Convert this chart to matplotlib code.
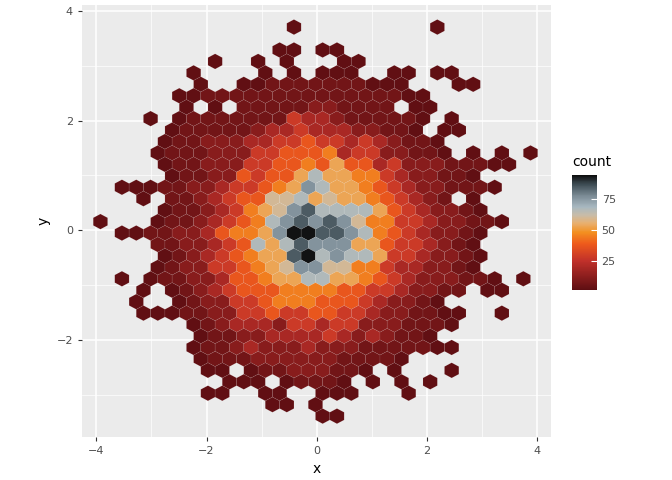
import numpy as np
import matplotlib
matplotlib.use("Agg")
import matplotlib.pyplot as plt
from matplotlib.collections import PolyCollection
from matplotlib.colors import LinearSegmentedColormap, Normalize

# hex rows: row index -> [(first column, level codes)]
# odd rows sit on half columns
rows = {
    18: [(-1, "1"), (9, "1")],
    16: [(-2, "11"), (1, "11")],
    15: [(-6.5, "1"), (-3.5, "1"), (-1.5, "1"), (2.5, "11")],
    14: [(-8, "1"), (-3, "1"), (-1, "1"), (1, "111"), (6, "11"), (9, "11")],
    13: [(-7.5, "1"), (-4.5, "112222222111"), (10.5, "11")],
    12: [(-9, "112222222222222211")],
    11: [(-8.5, "1"), (-6.5, "1"), (-4.5, "22222332222"), (7.5, "11")],
    10: [(-11, "1"), (-9, "122222225443222221"), (10, "1")],
    9: [(-9.5, "122222344544433221"), (9.5, "11")],
    8: [(-10, "12233344556554543221")],
    7: [(-10.5, "122233355666745533221"), (11.5, "1"), (13.5, "1"), (15.5, "1")],
    6: [(-10, "1223335566768664533322211")],
    5: [(-9.5, "1223365668a88775433221")],
    4: [(-13, "111223345567" + "8ba887654332221")],
    3: [(-11.5, "1"), (-9.5, "2234566" + "99a898" + "8765432"), (11.5, "1")],
    2: [(-10, "1223457" + "89bcaaaa8" + "6543321")],
    1: [(-14.5, "1"), (-10.5, "12234567" + "abcbcb9" + "7755433221")],
    0: [(-13, "1122334" + "6778bddccba" + "76543321")],
    -1: [(-10.5, "22334" + "56a8acbbb88" + "6554321")],
    -2: [(-10, "1234" + "56788cdabaa8" + "5543321")],
    -3: [(-10.5, "1233" + "556789bb9977" + "5443321")],
    -4: [(-13, "1"), (-11, "122334" + "66788aa8876" + "54333221"), (15, "1")],
    -5: [(-11.5, "1"), (-9.5, "123" + "456667777665" + "543322"), (12.5, "11")],
    -6: [(-12, "1"), (-9, "1233" + "55677766654" + "3321")],
    -7: [(-11.5, "1112233" + "5565566554" + "332211"), (13.5, "1")],
    -8: [(-8, "123" + "444355455" + "3332221")],
    -9: [(-7.5, "12233444454343221")],
    -10: [(-8, "1223433343332222211")],
    -11: [(-7.5, "122233333322221")],
    -12: [(-7, "11"), (-4, "122333221"), (6, "1"), (10, "1")],
    -13: [(-5.5, "111"), (-1.5, "12221"), (4.5, "1"), (6.5, "1"), (8.5, "1")],
    -14: [(-7, "11"), (-3, "11"), (1, "111"), (7, "1")],
    -15: [(-2.5, "11"), (0.5, "1")],
    -16: [(1, "11")],
}
level_counts = {"1": 2, "2": 6, "3": 11, "4": 19, "5": 28, "6": 37, "7": 45,
                "8": 53, "9": 60, "a": 67, "b": 76, "c": 85, "d": 94}

# hex lattice
dx = 0.2601
dy = 0.2087
x0 = -0.154
y0 = -0.05

xs, ys, counts = [], [], []
for k, segs in rows.items():
    for start, codes in segs:
        for i, ch in enumerate(codes):
            xs.append(x0 + (start + i) * dx)
            ys.append(y0 + k * dy)
            counts.append(level_counts[ch])
xs = np.array(xs)
ys = np.array(ys)
counts = np.array(counts)

hx = np.array([0, dx / 2, dx / 2, 0, -dx / 2, -dx / 2])
hy = np.array([2 * dy / 3, dy / 3, -dy / 3, -2 * dy / 3, -dy / 3, dy / 3])
verts = [np.column_stack([x + hx, y + hy]) for x, y in zip(xs, ys)]

cmap = LinearSegmentedColormap.from_list("heat", [
    (0.0, "#5e0e12"), (0.25, "#c0302a"), (0.4, "#ee5a1c"), (0.5, "#f39020"),
    (0.58, "#e8b070"), (0.65, "#c8bca8"), (0.72, "#a8b8c0"), (0.82, "#7a8a94"),
    (0.92, "#3c4a52"), (1.0, "#0c0c0c")])
norm = Normalize(1, 95)

fig = plt.figure(figsize=(6.72, 4.8), dpi=100)
ax = fig.add_axes([0.122, 0.0896, 0.698, 0.9])
ax.set_facecolor("#EBEBEB")
pc = PolyCollection(verts, array=counts, cmap=cmap, norm=norm,
                    edgecolors=(1, 1, 1, 0.12), linewidths=0.4)
ax.add_collection(pc)
ax.set_xlim(-4.26, 4.25)
ax.set_ylim(-3.77, 4.11)
ax.set_xticks([-4, -2, 0, 2, 4])
ax.set_yticks([-2, 0, 2, 4])
ax.set_xticks([-3, -1, 1, 3], minor=True)
ax.set_yticks([-3, -1, 1, 3], minor=True)
ax.grid(True, which="major", color="white", lw=1.1)
ax.grid(True, which="minor", color="white", lw=0.5)
ax.set_axisbelow(True)
for s in ax.spines.values():
    s.set_visible(False)
ax.tick_params(which="major", length=3, color="#333333", labelsize=8, labelcolor="#4D4D4D")
ax.tick_params(which="minor", length=0)
ax.set_xlabel("x", fontsize=10)
ax.set_ylabel("y", fontsize=10)

cax = fig.add_axes([0.851, 0.396, 0.037, 0.24])
cb = fig.colorbar(pc, cax=cax, ticks=[25, 50, 75])
cb.outline.set_visible(False)
cax.tick_params(length=4, color="white", direction="in", labelsize=8, labelcolor="#4D4D4D")
cax.set_title("count", fontsize=10, loc="left", pad=6)

fig.savefig("out.png", dpi=100)
